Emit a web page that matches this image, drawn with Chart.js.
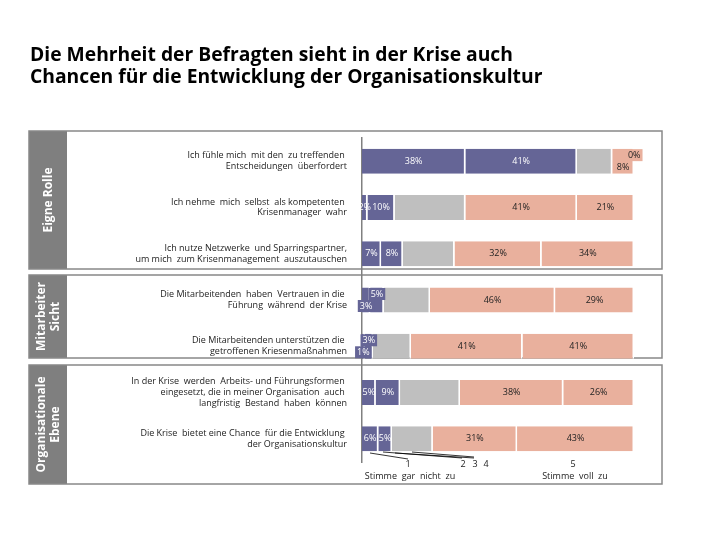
<!DOCTYPE html>
<html>
<head>
<meta charset="utf-8">
<script src="https://cdn.jsdelivr.net/npm/chart.js@4/dist/chart.umd.min.js"></script>
<style>
html, body { margin: 0; padding: 0; background: #fff; }
#wrap { width: 720px; height: 540px; position: relative; }
</style>
</head>
<body>
<div id="wrap"><canvas id="barChart"></canvas></div>
<script>
// statements (one row per bar)
var statements = [
  ["Ich fühle mich  mit den  zu treffenden ", "Entscheidungen  überfordert"],
  ["Ich nehme  mich  selbst  als kompetenten ", "Krisenmanager  wahr"],
  ["Ich nutze Netzwerke  und Sparringspartner,", "um mich  zum Krisenmanagement  auszutauschen"],
  ["Die Mitarbeitenden  haben  Vertrauen in die ", "Führung  während  der Krise"],
  ["Die Mitarbeitenden unterstützen die ", "getroffenen Kriesenmaßnahmen"],
  ["In der Krise  werden  Arbeits- und Führungsformen ", "eingesetzt, die in meiner Organisation  auch ", "langfristig  Bestand  haben  können"],
  ["Die Krise  bietet eine Chance  für die Entwicklung ", "der Organisationskultur"]
];

// answer scale 1 (Stimme gar nicht zu) ... 5 (Stimme voll zu), in %
var scale1 = [38, 2, 7, 3, 1, 5, 6];
var scale2 = [41, 10, 8, 5, 3, 9, 5];
var scale3 = [13, 26, 19, 17, 14, 22, 15];
var scale4 = [0, 41, 32, 46, 41, 38, 31];
var scale5 = [8, 21, 34, 29, 41, 26, 43];

var scaleNames = ["1", "2", "3", "4", "5"];
var barColors = ["#656596", "#656596", "#bfbfbf", "#e9b09d", "#e9b09d"];

// sections: title lines and which rows they hold
var sections = [
  { title: ["Eigne Rolle"], top: 131, bottom: 269 },
  { title: ["Mitarbeiter", "Sicht"], top: 275, bottom: 358 },
  { title: ["Organisationale", "Ebene"], top: 365, bottom: 484 }
];

var chartTitle = ["Die Mehrheit der Befragten sieht in der Krise auch",
                  "Chancen für die Entwicklung der Organisationskultur"];

var panelPlugin = {
  id: "panels",
  beforeDraw: function (chart) {
    var ctx = chart.ctx;
    ctx.save();
    // title
    ctx.fillStyle = "#000";
    ctx.textAlign = "left";
    ctx.textBaseline = "alphabetic";
    ctx.font = "bold 20px 'Open Sans'";
    var w = ctx.measureText(chartTitle[0]).width;
    var size = 20 * 483 / w;
    ctx.font = "bold " + size.toFixed(1) + "px 'Open Sans'";
    ctx.fillText(chartTitle[0], 30, 61);
    ctx.fillText(chartTitle[1], 30, 83);

    sections.forEach(function (s) {
      ctx.fillStyle = "#7f7f7f";
      ctx.fillRect(29, s.top, 38, s.bottom - s.top);
      ctx.strokeStyle = "#888";
      ctx.lineWidth = 1.5;
      ctx.strokeRect(29, s.top, 662 - 29, s.bottom - s.top);
      ctx.save();
      ctx.translate(48.5, (s.top + s.bottom) / 2);
      ctx.rotate(-Math.PI / 2);
      ctx.fillStyle = "#fff";
      ctx.font = "bold 12px 'Open Sans'";
      ctx.textAlign = "center";
      ctx.textBaseline = "middle";
      var n = s.title.length;
      s.title.forEach(function (t, i) {
        ctx.fillText(t, 0, (i - (n - 1) / 2) * 14);
      });
      ctx.restore();
    });
    ctx.restore();
  },
  afterDatasetsDraw: function (chart) {
    var ctx = chart.ctx;
    ctx.save();
    ctx.font = "9px 'Open Sans'";
    ctx.textBaseline = "middle";
    var rows = chart.data.labels.length;
    for (var r = 0; r < rows; r++) {
      var e0 = chart.getDatasetMeta(0).data[r];
      var e1 = chart.getDatasetMeta(1).data[r];
      var t0 = ctx.measureText(scale1[r] + "%").width;
      var stagger = (e0.x - e0.base) < t0 + 2 && (e1.x - e1.base) < 16;
      var shiftNext = 0;
      chart.data.datasets.forEach(function (ds, d) {
        if (d === 2) return;
        var el = chart.getDatasetMeta(d).data[r];
        var v = ds.data[r];
        var txt = v + "%";
        var tw = ctx.measureText(txt).width;
        var cx = (el.x + el.base) / 2;
        var cy = el.y;
        var box = false;
        if (stagger && d === 0) { cy += 6; box = true; }
        if (stagger && d === 1) { cy -= 6; box = true; }
        if (d >= 3 && shiftNext) { cy += 6; shiftNext = 0; }
        if (v === 0) { cx = el.x + 22; cy -= 6; box = true; shiftNext = 1; }
        if (box) {
          ctx.fillStyle = barColors[d];
          ctx.fillRect(cx - tw / 2 - 2, cy - 6, tw + 4, 12);
        }
        ctx.fillStyle = d < 2 ? "#fff" : "#222";
        ctx.textAlign = "center";
        ctx.fillText(txt, cx, cy);
      });
    }

    // answer scale key below the bars
    ctx.strokeStyle = "#000";
    ctx.lineWidth = 0.8;
    [[370, 453, 408, 459], [383, 452, 462, 458], [395, 453, 474, 458], [412, 452, 474, 457]].forEach(function (l) {
      ctx.beginPath();
      ctx.moveTo(l[0], l[1]);
      ctx.lineTo(l[2], l[3]);
      ctx.stroke();
    });
    ctx.fillStyle = "#222";
    ctx.textAlign = "center";
    ctx.fillText(scaleNames[0], 408, 464);
    ctx.fillText(scaleNames[1], 463, 464);
    ctx.fillText(scaleNames[2], 475, 464);
    ctx.fillText(scaleNames[3], 486, 464);
    ctx.fillText(scaleNames[4], 573, 464);
    ctx.fillText("Stimme  gar  nicht  zu", 410, 476);
    ctx.fillText("Stimme  voll  zu", 575, 476);
    ctx.restore();
  }
};

var values = [scale1, scale2, scale3, scale4, scale5];
var barCtx = document.getElementById("barChart").getContext("2d");

new Chart(barCtx, {
  type: "bar",
  data: {
    labels: statements,
    datasets: values.map(function (v, i) {
      return {
        label: scaleNames[i],
        data: v,
        backgroundColor: barColors[i],
        borderColor: "#fff",
        borderWidth: { left: 0, top: 0, bottom: 0, right: 1.5 },
        borderSkipped: false,
        barPercentage: 0.54,
        categoryPercentage: 1
      };
    })
  },
  options: {
    indexAxis: "y",
    responsive: true,
    maintainAspectRatio: false,
    animation: false,
    layout: { padding: { top: 138, bottom: 78, left: 0, right: 86 } },
    plugins: {
      legend: { display: false },
      title: { display: false },
      tooltip: { enabled: false }
    },
    scales: {
      x: { stacked: true, min: 0, max: 100, display: false },
      y: {
        stacked: true,
        grid: { display: false, drawTicks: false },
        border: { display: true, color: "#808080", width: 1.5 },
        ticks: {
          color: "#222",
          padding: 15,
          font: { family: "'Open Sans'", size: 9 },
          autoSkip: false
        },
        afterFit: function (scale) { scale.width = 362; }
      }
    }
  },
  plugins: [panelPlugin]
});
</script>
</body>
</html>
